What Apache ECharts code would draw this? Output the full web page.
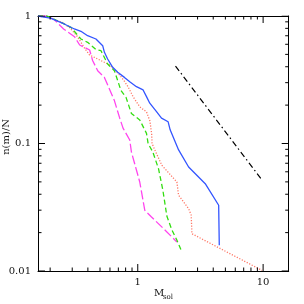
<!DOCTYPE html>
<html><head><meta charset="utf-8">
<script src="https://cdn.jsdelivr.net/npm/echarts@6/dist/echarts.min.js"></script>
<style>html,body{margin:0;padding:0;background:#fff}#c{width:304px;height:304px}</style>
</head><body><div id="c"></div>
<script>
// ---- data ----
const blueM = [0.16,0.201,0.259,0.312,0.352,0.398,0.464,0.525,0.542,0.575,0.631,0.692,0.783,0.863,0.976,1.103,1.174,1.247,1.411,1.547,1.747,1.813,2.117,2.545,3.454,4.42,4.47];
const blueN = [1,0.964,0.866,0.791,0.759,0.701,0.66,0.585,0.519,0.46,0.396,0.362,0.33,0.305,0.279,0.263,0.233,0.207,0.178,0.158,0.148,0.128,0.089,0.0654,0.0484,0.0328,0.0159];
const redM = [0.16,0.2,0.25,0.29,0.33,0.377,0.413,0.467,0.597,0.718,0.787,0.836,0.917,1.037,1.174,1.25,1.29,1.3,1.368,1.556,2.051,2.117,2.545,2.669,2.704,9.82];
const redN = [1,0.97,0.89,0.8,0.69,0.558,0.494,0.466,0.413,0.344,0.305,0.279,0.233,0.194,0.177,0.15,0.12,0.1,0.089,0.0675,0.0499,0.0393,0.0308,0.0274,0.0196,0.0101];
const greenM = [0.16,0.19,0.243,0.293,0.352,0.398,0.464,0.509,0.575,0.651,0.692,0.735,0.806,0.89,1.037,1.174,1.209,1.318,1.464,1.585,1.706,1.871,2.05,2.249];
const greenN = [1,1,0.892,0.815,0.66,0.622,0.545,0.534,0.42,0.372,0.311,0.26,0.23,0.172,0.153,0.12,0.1,0.0858,0.0634,0.0432,0.027,0.021,0.0175,0.0141];
const magM = [0.16,0.19,0.217,0.256,0.313,0.344,0.375,0.413,0.437,0.479,0.542,0.594,0.651,0.718,0.763,0.863,0.89,1.037,1.138,1.287,1.654,2.051];
const magN = [1,1,0.93,0.791,0.688,0.592,0.568,0.541,0.446,0.372,0.33,0.268,0.217,0.158,0.132,0.1066,0.0858,0.0499,0.0299,0.0265,0.0209,0.0169];
const slopeM = [2.0, 9.8];
const slopeN = [0.405, 0.0517];

const xMajor = [1, 10];
const xMinor = [0.2,0.3,0.4,0.5,0.6,0.7,0.8,0.9,2,3,4,5,6,7,8,9];
const xLabels = ['1', '10'];
const yMajor = [0.01, 0.1, 1];
const yMinor = [0.02,0.03,0.04,0.05,0.06,0.07,0.08,0.09,0.2,0.3,0.4,0.5,0.6,0.7,0.8,0.9];
const yLabels = ['0.01', '0.1', '1'];

const X_MIN = 0.16, X_MAX = 16, Y_MIN = 0.01, Y_MAX = 1;
const zip = (a, b) => a.map((v, i) => [v, b[i]]);
const FONT = 'DejaVu Serif';
const MAJ = 7, MIN = 3.5;
const G = {left: 38, top: 16, right: 15.3, bottom: 33};
const W = 304 - G.left - G.right, H = 304 - G.top - G.bottom;
const lg = Math.log10;
// pixels per decade, used to turn a tick length into a factor along the log axis
const pxDecX = W / (lg(X_MAX) - lg(X_MIN)), pxDecY = H / (lg(Y_MAX) - lg(Y_MIN));

const findLbl = (list, names, v) => {
  const i = list.findIndex(t => Math.abs(t - v) < 1e-6 * t);
  return i >= 0 ? names[i] : '';
};
const axLine = {show: true, onZero: false, lineStyle: {color: '#000', width: 1}};
function xAx(pos, labels) {
  return {
    type: 'log', logBase: 10, min: X_MIN, max: X_MAX, position: pos,
    axisLine: axLine, splitLine: {show: false}, axisTick: {show: false},
    axisLabel: labels ? {show: true, margin: 6, color: '#111', fontFamily: FONT, fontSize: 10,
      formatter: v => findLbl(xMajor, xLabels, v)} : {show: false}
  };
}
function yAx(pos, labels) {
  return {
    type: 'log', logBase: 10, min: Y_MIN, max: Y_MAX, position: pos,
    axisLine: axLine, splitLine: {show: false}, axisTick: {show: false},
    axisLabel: labels ? {show: true, margin: 7, color: '#111', fontFamily: FONT, fontSize: 10,
      formatter: v => findLbl(yMajor, yLabels, v)} : {show: false}
  };
}

// tick marks as tiny two-point line series placed through the log scales
const tickSeries = [];
function tickLine(a, b) {
  tickSeries.push({type: 'line', data: [a, b], showSymbol: false, silent: true, z: 6,
    lineStyle: {color: '#000', width: 1, type: 'solid'}, emphasis: {disabled: true}});
}
function addX(v, len) {
  const fy = Math.pow(10, len / pxDecY);
  tickLine([v, Y_MIN], [v, Y_MIN * fy]);
  tickLine([v, Y_MAX], [v, Y_MAX / fy]);
}
function addY(v, len) {
  const fx = Math.pow(10, len / pxDecX);
  tickLine([X_MIN, v], [X_MIN * fx, v]);
  tickLine([X_MAX, v], [X_MAX / fx, v]);
}
xMajor.forEach(v => addX(v, MAJ));
xMinor.forEach(v => addX(v, MIN));
yMajor.forEach(v => addY(v, MAJ));
yMinor.forEach(v => addY(v, MIN));

const dataSeries = [
  {type: 'line', data: zip(slopeM, slopeN), showSymbol: false, lineStyle: {color: '#000', width: 1.2, type: [6, 3, 1.5, 3]}},
  {type: 'line', data: zip(redM, redN), showSymbol: false, lineStyle: {color: '#ff7766', width: 1.3, type: [1.2, 1.6]}},
  {type: 'line', data: zip(magM, magN), showSymbol: false, lineStyle: {color: '#ff44ee', width: 1.3, type: [9, 3]}},
  {type: 'line', data: zip(greenM, greenN), showSymbol: false, lineStyle: {color: '#33dd11', width: 1.3, type: [5, 3]}},
  {type: 'line', data: zip(blueM, blueN), showSymbol: false, lineStyle: {color: '#3355ff', width: 1.3}}
];

const chart = echarts.init(document.getElementById('c'), null, {renderer: 'canvas'});
chart.setOption({
  animation: false,
  backgroundColor: '#fff',
  grid: {left: G.left, top: G.top, right: G.right, bottom: G.bottom, containLabel: false},
  xAxis: [xAx('bottom', true), xAx('top', false)],
  yAxis: [yAx('left', true), yAx('right', false)],
  series: tickSeries.concat(dataSeries),
  graphic: [
    {type: 'text', left: 1, top: 119, rotation: Math.PI / 2, style: {text: 'n(m)/N', font: '10px "DejaVu Serif"', fill: '#111'}},
    {type: 'text', left: 154, top: 288, style: {text: 'M', font: '10px "DejaVu Serif"', fill: '#111'}},
    {type: 'text', left: 163, top: 294, style: {text: 'sol', font: '7px "DejaVu Serif"', fill: '#111'}}
  ]
});
</script></body></html>
